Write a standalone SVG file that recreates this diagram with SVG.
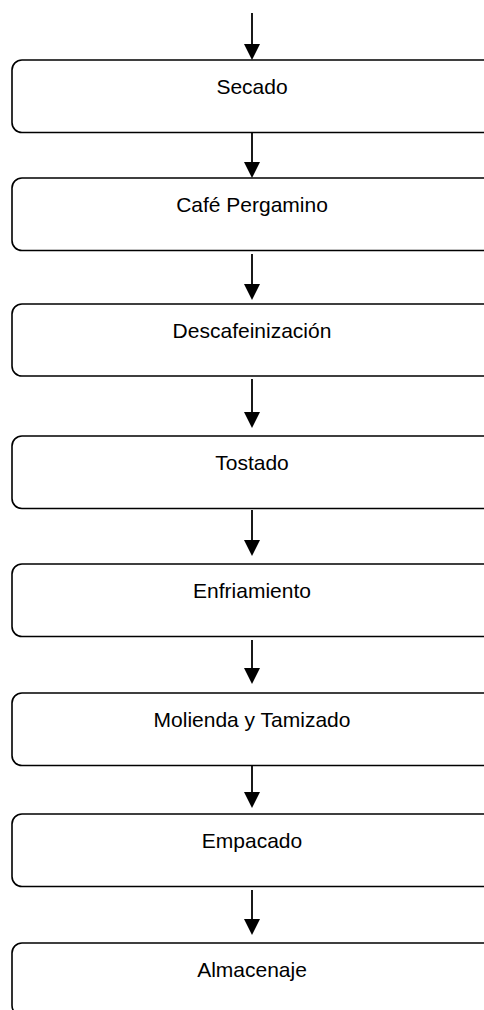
<svg xmlns="http://www.w3.org/2000/svg" width="484" height="1010" viewBox="0 0 484 1010">
<style>
.box{fill:#fff;stroke:#000;stroke-width:1.6}
.lbl{font-family:"Liberation Sans",Arial,sans-serif;font-size:21px;fill:#000;text-anchor:middle}
.ln{stroke:#000;stroke-width:1.8;fill:none}
.ah{fill:#000}
</style>
<rect width="484" height="1010" fill="#fff"/>
<g id="connectors">
<line class="ln" x1="252" y1="13" x2="252" y2="46"/><polygon class="ah" points="244,44 260,44 252,60"/>
<line class="ln" x1="252" y1="132" x2="252" y2="164"/><polygon class="ah" points="244,162 260,162 252,178"/>
<line class="ln" x1="252" y1="254" x2="252" y2="286"/><polygon class="ah" points="244,284 260,284 252,300"/>
<line class="ln" x1="252" y1="379" x2="252" y2="414"/><polygon class="ah" points="244,412 260,412 252,428"/>
<line class="ln" x1="252" y1="510" x2="252" y2="542"/><polygon class="ah" points="244,540 260,540 252,556"/>
<line class="ln" x1="252" y1="640" x2="252" y2="670"/><polygon class="ah" points="244,668 260,668 252,684"/>
<line class="ln" x1="252" y1="765" x2="252" y2="794"/><polygon class="ah" points="244,792 260,792 252,808"/>
<line class="ln" x1="252" y1="890" x2="252" y2="921"/><polygon class="ah" points="244,919 260,919 252,935"/>
</g>
<g id="n1"><rect class="box" x="12" y="60" width="483" height="72.5" rx="10"/><text class="lbl" x="252" y="93.5">Secado</text></g>
<g id="n2"><rect class="box" x="12" y="178" width="483" height="72.5" rx="10"/><text class="lbl" x="252" y="212">Café Pergamino</text></g>
<g id="n3"><rect class="box" x="12" y="304" width="483" height="72" rx="10"/><text class="lbl" x="252" y="338">Descafeinización</text></g>
<g id="n4"><rect class="box" x="12" y="436" width="483" height="72.5" rx="10"/><text class="lbl" x="252" y="470">Tostado</text></g>
<g id="n5"><rect class="box" x="12" y="564" width="483" height="72.5" rx="10"/><text class="lbl" x="252" y="598">Enfriamiento</text></g>
<g id="n6"><rect class="box" x="12" y="693" width="483" height="72.5" rx="10"/><text class="lbl" x="252" y="727">Molienda y Tamizado</text></g>
<g id="n7"><rect class="box" x="12" y="814" width="483" height="72.5" rx="10"/><text class="lbl" x="252" y="848">Empacado</text></g>
<g id="n8"><rect class="box" x="12" y="943" width="483" height="72.5" rx="10"/><text class="lbl" x="252" y="977">Almacenaje</text></g>
</svg>
